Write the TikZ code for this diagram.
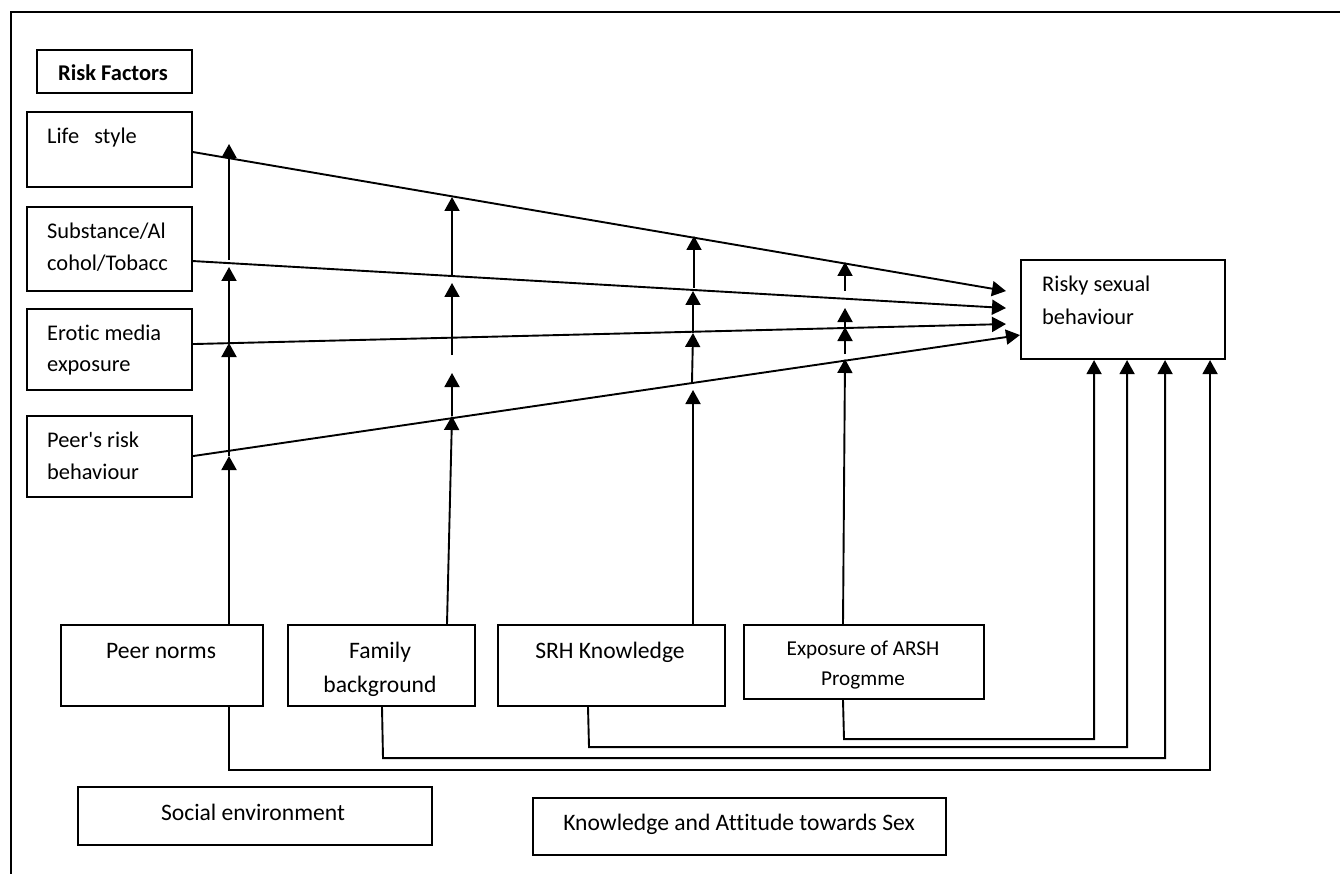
\documentclass[tikz,border=0pt]{standalone}
\usepackage{fontspec}
\setmainfont{Carlito}[Ligatures=CommonOff]
\usetikzlibrary{arrows.meta,calc}
\begin{document}
\begin{tikzpicture}[x=1pt,y=-1pt,
  box/.style={draw, line width=2.1pt, inner sep=0pt, anchor=north west},
  lbl/.style={inner sep=0pt, anchor=base west, font=\fontsize{22.4}{27}\selectfont},
  clbl/.style={inner sep=0pt, anchor=base, font=\fontsize{23.6}{28}\selectfont},
  slbl/.style={inner sep=0pt, anchor=base, font=\fontsize{21.2}{25}\selectfont},
  arr/.style={line width=1.9pt, -{Triangle[length=14pt,width=15pt]}},
]
\useasboundingbox (0,0) rectangle (1340,874);
% frame
\draw[line width=2.4pt] (11,874) -- (11,12) -- (1340,12);

% boxes
\node[box, minimum width=155pt, minimum height=43pt] (rf) at (36,49) {};
\node[box, minimum width=165pt, minimum height=75pt] (ls) at (26,111) {};
\node[box, minimum width=165pt, minimum height=84pt] (sub) at (26,206) {};
\node[box, minimum width=165pt, minimum height=81pt] (ero) at (26,308) {};
\node[box, minimum width=165pt, minimum height=81pt] (prb) at (26,415) {};
\node[box, minimum width=204pt, minimum height=99pt] (rs) at (1020,259) {};
\node[box, minimum width=202pt, minimum height=81pt] (pn) at (60,624) {};
\node[box, minimum width=187pt, minimum height=81pt] (fb) at (287,624) {};
\node[box, minimum width=227pt, minimum height=81pt] (srh) at (497,624) {};
\node[box, minimum width=240pt, minimum height=74pt] (arsh) at (743,624) {};
\node[box, minimum width=354pt, minimum height=58pt] (se) at (77,786) {};
\node[box, minimum width=413pt, minimum height=57pt] (kat) at (532,797) {};

% texts
\node[inner sep=0pt, anchor=base, font=\bfseries\fontsize{22.5}{27}\selectfont] (rft) at (113,81) {Risk Factors};
\node[lbl] (t1) at (47,144) {Life\ \ \ style};
\node[lbl] (t2a) at (47,239) {Substance/Al};
\node[lbl] (t2b) at (47,271) {cohol/Tobacc};
\node[lbl] (t3a) at (47,340) {Erotic media};
\node[lbl] (t3b) at (47,371) {exposure};
\node[lbl] (t4a) at (47,447) {Peer\textquotesingle s risk};
\node[lbl] (t4b) at (47,479) {behaviour};
\node[lbl] (t5a) at (1042,292) {Risky sexual};
\node[lbl] (t5b) at (1042,324) {behaviour};
\node[clbl] (t6) at (161,658) {Peer norms};
\node[clbl] (t7a) at (380,658) {Family};
\node[clbl] (t7b) at (380,692) {background};
\node[clbl] (t8) at (610,658) {SRH Knowledge};
\node[slbl] (t9a) at (863,655) {Exposure of ARSH};
\node[slbl] (t9b) at (863,685) {Progmme};
\node[clbl] (t10) at (253,820) {Social environment};
\node[clbl] (t11) at (739,830) {Knowledge and Attitude towards Sex};

% risk factor lines into risky sexual behaviour
\draw[arr] ($(ls.east)+(0,2.5)$) -- ($(rs.west)+(-14,-18.5)$);
\draw[arr] ($(sub.east)+(0,12)$) -- ($(rs.west)+(-14,-1.5)$);
\draw[arr] ($(ero.east)+(0,-5.5)$) -- ($(rs.west)+(-14,14.5)$);
\draw[arr] ($(prb.east)+(0,-0.5)$) -- ($(rs.west)+(0,25.5)$);

% column 1 (peer norms)
\coordinate (c1a) at (229,456);
\coordinate (c1b) at (229,343);
\coordinate (c1c) at (229,267);
\coordinate (c1d) at (229,260);
\coordinate (c1e) at (229,144);
\draw[arr] ($(pn.north west)+(169,0)$) -- (c1a);
\draw[arr] (c1a) -- (c1b);
\draw[arr] (c1b) -- (c1c);
\draw[arr] (c1d) -- (c1e);

% column 2 (family background)
\coordinate (c2a) at (452,416);
\coordinate (c2b) at (452,373);
\coordinate (c2c) at (452,355);
\coordinate (c2d) at (452,283);
\coordinate (c2e) at (452,275);
\coordinate (c2f) at (452,197);
\draw[arr] ($(fb.north west)+(160,0)$) -- (c2a);
\draw[arr] (c2a) -- (c2b);
\draw[arr] (c2c) -- (c2d);
\draw[arr] (c2e) -- (c2f);

% column 3 (SRH knowledge)
\coordinate (c3a) at (693,390);
\coordinate (c3b) at (692,382);
\coordinate (c3c) at (693,333);
\coordinate (c3d) at (693,291);
\coordinate (c3e) at (694,288);
\coordinate (c3f) at (694,236);
\draw[arr] ($(srh.north west)+(196,0)$) -- (c3a);
\draw[arr] (c3b) -- (c3c);
\draw[arr] (c3c) -- (c3d);
\draw[arr] (c3e) -- (c3f);

% column 4 (ARSH programme)
\coordinate (c4a) at (845,359);
\coordinate (c4b) at (845,354);
\coordinate (c4c) at (845,327);
\coordinate (c4d) at (845,308);
\coordinate (c4e) at (845,291);
\coordinate (c4f) at (845,262);
\draw[arr] ($(arsh.north west)+(100,0)$) -- (c4a);
\draw[arr] (c4b) -- (c4c);
\draw[arr] (c4c) -- (c4d);
\draw[arr] (c4e) -- (c4f);

% bottom loops into risky sexual behaviour
\draw[arr] ($(pn.south west)+(169,0)$) -- ++(0,63) -| ($(rs.south)+(87,0)$);
\draw[arr] ($(fb.south west)+(95,0)$) -- ++(1,51) -| ($(rs.south)+(42,0)$);
\draw[arr] ($(srh.south west)+(91,0)$) -- ++(1,40) -| ($(rs.south)+(4,0)$);
\draw[arr] ($(arsh.south west)+(100,0)$) -- ++(1,39) -| ($(rs.south)+(-29,0)$);
\end{tikzpicture}
\end{document}
